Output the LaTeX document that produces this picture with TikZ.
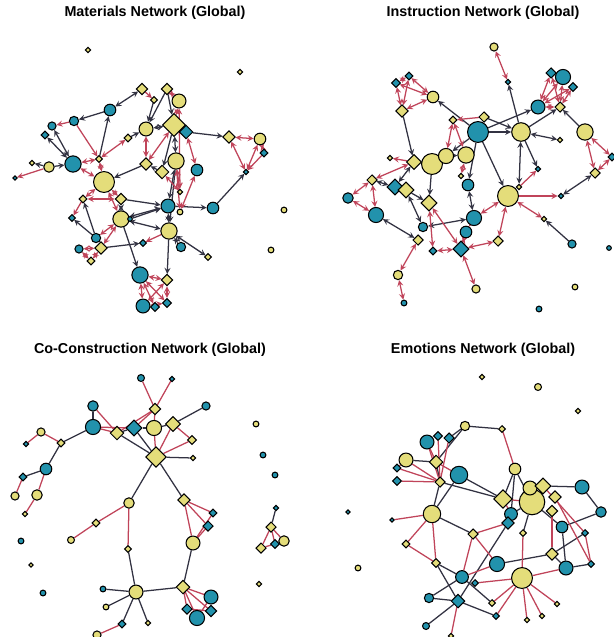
\documentclass[tikz,border=0pt]{standalone}
\usepackage{fontspec}
\setmainfont{Liberation Sans}
\usetikzlibrary{shapes.geometric,arrows,backgrounds}
\definecolor{ylw}{RGB}{228,221,122}
\definecolor{tel}{RGB}{34,146,172}
\definecolor{ered}{RGB}{192,68,90}
\definecolor{edk}{RGB}{50,50,66}
\tikzset{
  yc/.style={circle,draw=black,line width=0.75pt,fill=ylw,inner sep=0pt,minimum size=#1*0.029cm},
  bc/.style={circle,draw=black,line width=0.75pt,fill=tel,inner sep=0pt,minimum size=#1*0.029cm},
  yd/.style={diamond,draw=black,line width=0.75pt,fill=ylw,inner sep=0pt,minimum size=#1*0.029cm},
  bd/.style={diamond,draw=black,line width=0.75pt,fill=tel,inner sep=0pt,minimum size=#1*0.029cm},
  da/.style={->,>=stealth,draw=edk,line width=0.9pt},
  db/.style={<->,>=stealth,draw=edk,line width=0.9pt},
  ra/.style={->,>=stealth,draw=ered,line width=0.9pt},
  rb/.style={<->,>=stealth,draw=ered,line width=0.9pt},
  dl/.style={draw=edk,line width=0.9pt},
  rl/.style={draw=ered,line width=0.9pt},
  ttl/.style={font=\fontsize{10.2}{12}\selectfont\bfseries},
}
\begin{document}
\begin{tikzpicture}[x=0.025cm,y=-0.025cm]
  \useasboundingbox (0,0) rectangle (613,637);
  % titles
  \node[ttl] (t1) at (155,13) {Materials Network (Global)};
  \node[ttl] (t2) at (483,13) {Instruction Network (Global)};
  \node[ttl] (t3) at (150,350) {Co-Construction Network (Global)};
  \node[ttl] (t4) at (483,350) {Emotions Network (Global)};

  % materials
  \node[yd=5] (m1) at (88,50) {};
  \node[yd=5] (m2) at (240,72) {};
  \node[yd=10] (m3) at (142,89) {};
  \node[yd=10] (m4) at (167,89) {};
  \node[yd=6] (m5) at (154,100) {};
  \node[yc=12] (m6) at (179,101) {};
  \node[bc=10] (m7) at (110,110) {};
  \node[bc=8] (m8) at (74,121) {};
  \node[bc=7] (m9) at (52,126) {};
  \node[bd=7] (m10) at (45,135) {};
  \node[yc=12] (m11) at (146,129) {};
  \node[yd=20] (m12) at (174,125) {};
  \node[bd=12] (m13) at (186,132) {};
  \node[yd=7] (m14) at (128,138) {};
  \node[yd=11] (m15) at (229,137) {};
  \node[yc=10] (m16) at (260,139) {};
  \node[bd=7] (m17) at (264,153) {};
  \node[bd=5] (m18) at (246,172) {};
  \node[bc=14] (m19) at (73,164) {};
  \node[yc=9] (m20) at (49,167) {};
  \node[yd=5] (m21) at (32,163) {};
  \node[yd=6] (m22) at (99,159) {};
  \node[yd=11] (m23) at (146,164) {};
  \node[yc=14] (m24) at (176,161) {};
  \node[bc=10] (m25) at (197,170) {};
  \node[yd=12] (m26) at (162,172) {};
  \node[yc=18] (m27) at (104,182) {};
  \node[bd=4] (m28) at (15,178) {};
  \node[yd=7] (m29) at (83,199) {};
  \node[yd=10] (m30) at (121,199) {};
  \node[bc=12] (m31) at (168,206) {};
  \node[yd=5] (m32) at (180,192) {};
  \node[yc=5] (m33) at (180,212) {};
  \node[bc=10] (m34) at (213,208) {};
  \node[yc=14] (m35) at (121,219) {};
  \node[bc=4] (m36) at (130,219) {};
  \node[bd=6] (m37) at (72,218) {};
  \node[yc=14] (m38) at (169,231) {};
  \node[bc=8] (m39) at (96,238) {};
  \node[yd=11] (m40) at (101,248) {};
  \node[bc=7] (m41) at (79,249) {};
  \node[yd=7] (m42) at (91,261) {};
  \node[bd=6] (m43) at (143,243) {};
  \node[bc=8] (m44) at (181,247) {};
  \node[yd=6] (m45) at (208,257) {};
  \node[bc=14] (m46) at (140,275) {};
  \node[yd=10] (m47) at (167,280) {};
  \node[bc=12] (m48) at (143,306) {};
  \node[bd=8] (m49) at (155,307) {};
  \node[bd=8] (m50) at (167,303) {};
  \node[yc=5] (m51) at (284,210) {};
  \node[yc=5] (m52) at (271,250) {};

  % instruction
  \node[yc=7] (i1) at (494,47) {};
  \node[bd=5] (i2) at (508,82) {};
  \node[bd=9] (i3) at (551,73) {};
  \node[bc=13] (i4) at (563,77) {};
  \node[bd=8] (i5) at (573,87) {};
  \node[bd=8] (i6) at (396,83) {};
  \node[bd=7] (i7) at (409,76) {};
  \node[yc=10] (i8) at (433,97) {};
  \node[yd=11] (i9) at (402,111) {};
  \node[bc=12] (i10) at (538,107) {};
  \node[yd=9] (i11) at (560,107) {};
  \node[yd=7] (i12) at (453,120) {};
  \node[yd=9] (i13) at (484,117) {};
  \node[bc=18] (i14) at (478,132) {};
  \node[yc=16] (i15) at (521,132) {};
  \node[yd=5] (i16) at (560,140) {};
  \node[yc=14] (i17) at (585,132) {};
  \node[bd=7] (i18) at (612,157) {};
  \node[yd=5] (i19) at (390,158) {};
  \node[yd=13] (i20) at (414,162) {};
  \node[yc=18] (i21) at (432,164) {};
  \node[yc=13] (i22) at (446,156) {};
  \node[yc=14] (i23) at (466,155) {};
  \node[bd=5] (i24) at (538,169) {};
  \node[yd=9] (i25) at (595,173) {};
  \node[yd=9] (i26) at (372,180) {};
  \node[bc=9] (i27) at (348,198) {};
  \node[bd=14] (i28) at (395,187) {};
  \node[yd=14] (i29) at (406,190) {};
  \node[yd=14] (i30) at (429,203) {};
  \node[bc=13] (i31) at (376,215) {};
  \node[bc=10] (i32) at (468,185) {};
  \node[yd=5] (i33) at (461,176) {};
  \node[yc=18] (i34) at (508,196) {};
  \node[yd=5] (i35) at (519,187) {};
  \node[bd=5] (i36) at (561,196) {};
  \node[yd=5] (i37) at (544,219) {};
  \node[bc=13] (i38) at (474,218) {};
  \node[bc=8] (i39) at (423,227) {};
  \node[bc=10] (i40) at (466,232) {};
  \node[yd=9] (i41) at (418,240) {};
  \node[yd=9] (i42) at (498,241) {};
  \node[bd=7] (i43) at (433,251) {};
  \node[bd=14] (i44) at (461,249) {};
  \node[bc=7] (i45) at (572,244) {};
  \node[bc=4] (i46) at (609,248) {};
  \node[yc=8] (i47) at (398,275) {};
  \node[yc=7] (i48) at (476,289) {};
  \node[yc=5] (i49) at (575,287) {};
  \node[bc=5] (i50) at (404,303) {};
  \node[bc=5] (i51) at (539,309) {};

  % co-construction
  \node[bc=6] (c1) at (141,378) {};
  \node[bd=5] (c2) at (172,379) {};
  \node[bc=7] (c3) at (206,406) {};
  \node[bc=9] (c4) at (93,406) {};
  \node[yd=10] (c5) at (155,409) {};
  \node[bc=13] (c6) at (93,427) {};
  \node[yd=12] (c7) at (117,433) {};
  \node[bd=14] (c8) at (134,428) {};
  \node[yc=13] (c9) at (154,428) {};
  \node[yd=13] (c10) at (173,424) {};
  \node[yd=8] (c11) at (192,440) {};
  \node[yd=7] (c12) at (61,443) {};
  \node[yc=7] (c13) at (41,432) {};
  \node[bd=5] (c14) at (26,444) {};
  \node[yd=18] (c15) at (156,457) {};
  \node[yd=5] (c16) at (193,458) {};
  \node[bc=10] (c17) at (46,469) {};
  \node[bd=7] (c18) at (23,477) {};
  \node[yc=5] (c19) at (256,424) {};
  \node[bc=5] (c20) at (263,455) {};
  \node[bc=5] (c21) at (275,475) {};
  \node[yc=7] (c22) at (15,496) {};
  \node[yc=9] (c23) at (37,495) {};
  \node[yd=5] (c24) at (25,514) {};
  \node[bc=5] (c25) at (21,541) {};
  \node[yd=4] (c26) at (31,565) {};
  \node[bc=5] (c27) at (43,593) {};
  \node[yc=9] (c28) at (129,503) {};
  \node[yd=7] (c29) at (96,523) {};
  \node[yc=6] (c30) at (71,540) {};
  \node[yd=6] (c31) at (128,549) {};
  \node[yc=12] (c32) at (136,592) {};
  \node[bc=5] (c33) at (103,589) {};
  \node[yc=5] (c34) at (106,607) {};
  \node[bd=7] (c35) at (122,624) {};
  \node[yd=5] (c36) at (148,623) {};
  \node[yc=7] (c37) at (97,635) {};
  \node[yd=11] (c38) at (184,500) {};
  \node[bd=7] (c39) at (213,513) {};
  \node[bd=9] (c40) at (208,526) {};
  \node[yc=12] (c41) at (193,543) {};
  \node[yd=12] (c42) at (183,587) {};
  \node[bc=12] (c43) at (211,597) {};
  \node[bd=9] (c44) at (187,609) {};
  \node[bd=10] (c45) at (211,611) {};
  \node[bc=13] (c46) at (197,618) {};
  \node[bd=5] (c47) at (276,508) {};
  \node[yd=9] (c48) at (271,527) {};
  \node[bd=8] (c49) at (275,544) {};
  \node[yc=9] (c50) at (284,541) {};
  \node[yd=9] (c51) at (261,548) {};
  \node[yd=5] (c52) at (259,584) {};

  % emotions
  \node[yd=5] (e1) at (482,377) {};
  \node[yc=6] (e2) at (538,387) {};
  \node[yd=5] (e3) at (578,411) {};
  \node[yc=8] (e4) at (465,426) {};
  \node[yd=6] (e5) at (502,429) {};
  \node[bc=12] (e6) at (427,442) {};
  \node[bd=8] (e7) at (438,436) {};
  \node[bd=9] (e8) at (449,438) {};
  \node[yc=12] (e9) at (406,460) {};
  \node[yd=12] (e10) at (436,462) {};
  \node[bd=7] (e11) at (397,468) {};
  \node[bc=15] (e12) at (459,475) {};
  \node[bd=8] (e13) at (397,481) {};
  \node[yc=10] (e14) at (515,469) {};
  \node[yd=9] (e15) at (440,482) {};
  \node[yc=22] (e18) at (532,502) {};
  \node[yc=12] (e16) at (530,488) {};
  \node[yd=14] (e17) at (543,486) {};
  \node[yd=11] (e19) at (555,497) {};
  \node[yd=10] (e20) at (552,511) {};
  \node[bc=12] (e21) at (582,487) {};
  \node[bc=9] (e22) at (601,512) {};
  \node[yd=16] (e23) at (503,499) {};
  \node[bc=11] (e24) at (511,514) {};
  \node[bd=11] (e25) at (508,523) {};
  \node[yc=15] (e26) at (432,514) {};
  \node[bd=4] (e27) at (392,520) {};
  \node[yd=9] (e28) at (473,534) {};
  \node[yd=6] (e29) at (523,533) {};
  \node[bc=10] (e30) at (562,527) {};
  \node[bd=6] (e31) at (585,533) {};
  \node[yd=7] (e32) at (406,544) {};
  \node[yd=8] (e33) at (436,563) {};
  \node[bc=13] (e34) at (497,564) {};
  \node[yd=11] (e35) at (552,554) {};
  \node[bc=12] (e36) at (566,568) {};
  \node[bd=6] (e37) at (591,564) {};
  \node[bd=4] (e38) at (348,512) {};
  \node[yc=5] (e39) at (358,568) {};
  \node[bc=11] (e40) at (462,577) {};
  \node[bd=6] (e41) at (475,583) {};
  \node[yc=18] (e42) at (522,578) {};
  \node[bc=8] (e43) at (429,598) {};
  \node[bd=12] (e44) at (458,601) {};
  \node[yd=6] (e45) at (492,603) {};
  \node[bd=6] (e46) at (496,616) {};
  \node[yd=5] (e47) at (527,620) {};
  \node[yd=5] (e48) at (542,616) {};
  \node[yd=5] (e49) at (557,604) {};
  \node[bc=6] (e50) at (426,626) {};
  \node[yd=5] (e51) at (451,636) {};

  \begin{scope}[on background layer]
    % materials edges
    \foreach \a/\b in {m7/m8,m22/m7,m4/m11,m5/m11,m13/m15,m12/m26,m26/m23,m23/m27,m30/m31,m31/m34,m34/m18,m39/m29,m39/m37,m36/m31,m35/m46,m38/m47,m40/m43,m20/m19,m20/m21,m4/m12,m24/m38,m14/m11}
      \draw[da] (\a) -- (\b);
    \foreach \a/\b in {m3/m7,m9/m19,m10/m19,m12/m11,m12/m24,m30/m35,m31/m35,m35/m38,m31/m38,m38/m44,m38/m45,m24/m31,m12/m13}
      \draw[db] (\a) -- (\b);
    \foreach \a/\b in {m8/m22,m8/m9,m3/m5,m17/m18,m29/m37,m20/m28,m38/m43}
      \draw[ra] (\a) -- (\b);
    \foreach \a/\b in {m19/m22,m22/m14,m4/m6,m12/m6,m11/m23,m13/m25,m15/m16,m15/m18,m16/m17,m16/m18,m19/m27,m22/m27,m27/m29,m27/m30,m27/m35,m29/m30,m39/m35,m40/m35,m40/m41,m40/m42,m41/m42,m26/m32,m24/m32,m25/m33,m24/m33,m46/m47,m46/m48,m46/m49,m47/m48,m47/m50,m48/m50,m46/m50,m12/m23,m6/m32}
      \draw[rb] (\a) -- (\b);
    % instruction edges
    \foreach \a/\b in {i14/i8,i9/i20,i14/i15,i13/i15,i14/i10,i17/i11,i15/i2,i15/i24,i14/i22,i14/i34,i21/i30,i29/i30,i45/i37,i14/i32,i15/i11}
      \draw[da] (\a) -- (\b);
    \foreach \a/\b in {i15/i16,i15/i35,i25/i36,i20/i28,i26/i28,i31/i41,i29/i39,i32/i38,i39/i38,i21/i22,i22/i23,i20/i21}
      \draw[db] (\a) -- (\b);
    \foreach \a/\b in {i13/i12,i34/i36,i20/i19,i35/i24}
      \draw[ra] (\a) -- (\b);
    \foreach \a/\b in {i1/i2,i6/i7,i6/i9,i7/i8,i6/i8,i7/i9,i9/i8,i3/i10,i4/i10,i5/i10,i3/i11,i4/i11,i5/i11,i10/i11,i12/i22,i12/i23,i17/i18,i17/i25,i18/i25,i34/i37,i34/i38,i34/i42,i20/i26,i26/i27,i26/i31,i27/i31,i30/i43,i30/i44,i40/i44,i43/i44,i42/i44,i44/i48,i41/i47,i47/i50,i28/i29,i33/i23,i38/i40}
      \draw[rb] (\a) -- (\b);
    % co-construction edges
    \foreach \a/\b in {c3/c10,c4/c6,c6/c12,c7/c8,c8/c9,c9/c10,c7/c15,c8/c15,c15/c16,c12/c17,c17/c18,c15/c28,c15/c38,c31/c32,c32/c33,c32/c34,c32/c35,c32/c36,c32/c42,c41/c42,c47/c48}
      \draw[dl] (\a) -- (\b);
    \foreach \a/\b in {c1/c5,c2/c5,c5/c9,c5/c8,c5/c7,c4/c7,c6/c7,c6/c8,c9/c15,c10/c15,c10/c11,c15/c11,c12/c13,c13/c14,c17/c23,c18/c22,c23/c24,c28/c29,c29/c30,c28/c31,c38/c41,c38/c39,c38/c40,c41/c39,c41/c40,c42/c43,c42/c44,c42/c45,c42/c46,c44/c45,c43/c46,c35/c37,c48/c49,c48/c50,c48/c51,c51/c49}
      \draw[rl] (\a) -- (\b);
    % emotions edges
    \foreach \a/\b in {e4/e5,e4/e10,e4/e8,e9/e10,e10/e15,e15/e26,e12/e23,e15/e23,e14/e23,e14/e24,e14/e18,e17/e21,e21/e22,e22/e30,e18/e30,e18/e24,e26/e28,e33/e40,e36/e35,e35/e31,e36/e37,e30/e36,e35/e34,e40/e43,e44/e43,e44/e46,e44/e50,e33/e44,e40/e45,e29/e18,e25/e44,e12/e26}
      \draw[dl] (\a) -- (\b);
    \foreach \a/\b in {e5/e14,e6/e15,e7/e15,e8/e15,e9/e15,e11/e15,e13/e15,e6/e10,e10/e12,e23/e18,e23/e24,e19/e37,e17/e31,e26/e27,e26/e32,e26/e33,e32/e33,e28/e25,e28/e34,e28/e40,e34/e40,e41/e42,e42/e36,e42/e29,e42/e45,e42/e46,e42/e47,e42/e48,e42/e49,e44/e51,e20/e35,e31/e37,e9/e11}
      \draw[rl] (\a) -- (\b);
  \end{scope}
\end{tikzpicture}
\end{document}
